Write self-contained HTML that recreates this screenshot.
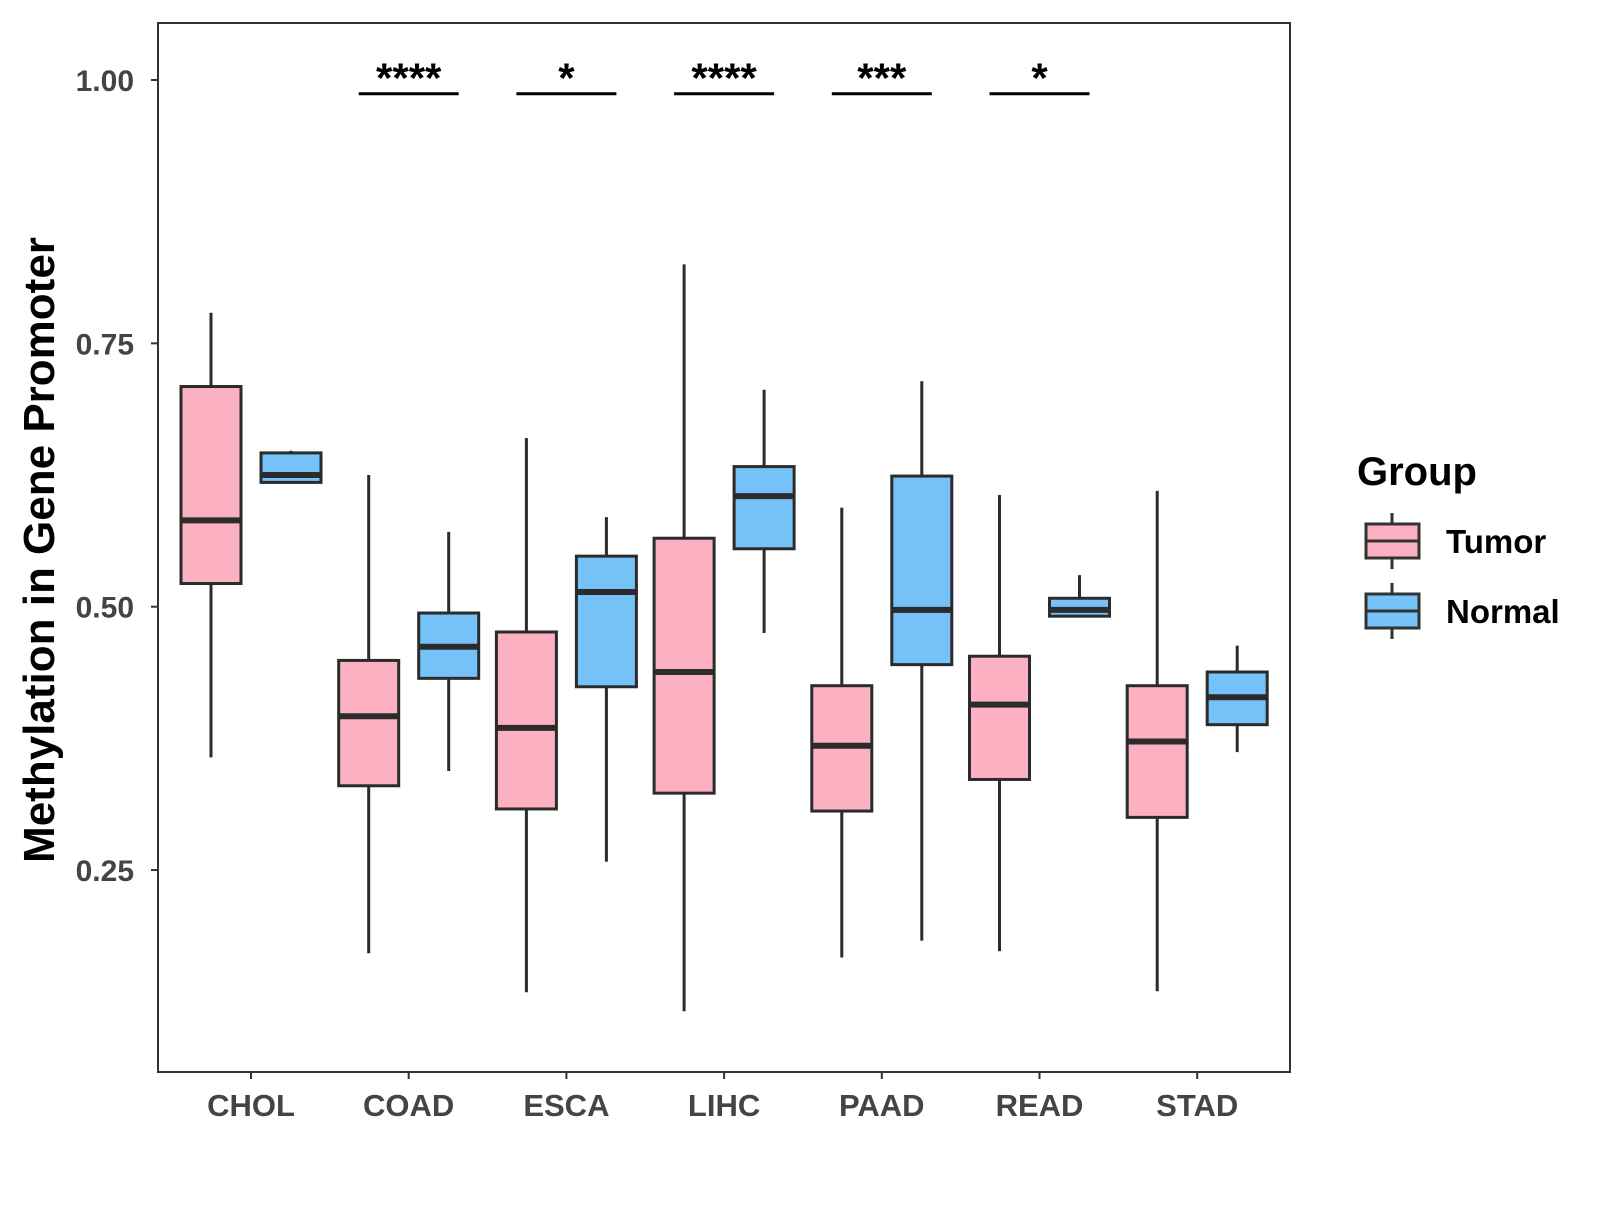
<!DOCTYPE html>
<html><head><meta charset="utf-8"><style>
body{margin:0;background:#fff}
svg text{font-family:"Liberation Sans",Arial,sans-serif;font-weight:bold}
</style></head><body>
<svg id="chart" width="1600" height="1200" xmlns="http://www.w3.org/2000/svg">
<rect x="158" y="23" width="1132" height="1049" fill="#fff" stroke="#333" stroke-width="2"/>
<g id="marks"></g>
<text transform="translate(54,550) rotate(-90)" text-anchor="middle" font-size="44" fill="#000">Methylation in Gene Promoter</text>
<g>
<text x="1357" y="485" font-size="40" fill="#000">Group</text>
<g>
<line x1="1392" y1="513" x2="1392" y2="569" stroke="#333" stroke-width="3"/>
<rect x="1366" y="524" width="53" height="34" fill="#FBB1C1" stroke="#333" stroke-width="3"/>
<line x1="1366" y1="541" x2="1419" y2="541" stroke="#333" stroke-width="3"/>
<text x="1446" y="553" font-size="33" fill="#000">Tumor</text></g>
<g>
<line x1="1392" y1="583" x2="1392" y2="639" stroke="#333" stroke-width="3"/>
<rect x="1366" y="594" width="53" height="34" fill="#75C2F8" stroke="#333" stroke-width="3"/>
<line x1="1366" y1="611" x2="1419" y2="611" stroke="#333" stroke-width="3"/>
<text x="1446" y="623" font-size="33" fill="#000">Normal</text></g>
</g>
</svg>
<script>
const categories=["CHOL","COAD","ESCA","LIHC","PAAD","READ","STAD"];
// [low, q1, median, q3, high]
const tumor=[[0.357,0.522,0.582,0.709,0.779],[0.171,0.330,0.396,0.449,0.625],[0.134,0.308,0.385,0.476,0.660],[0.116,0.323,0.438,0.565,0.825],[0.167,0.306,0.368,0.425,0.594],[0.173,0.336,0.407,0.453,0.606],[0.135,0.300,0.372,0.425,0.610]];
const normal=[[0.618,0.618,0.625,0.646,0.648],[0.344,0.432,0.462,0.494,0.571],[0.258,0.424,0.514,0.548,0.585],[0.475,0.555,0.605,0.633,0.706],[0.183,0.445,0.497,0.624,0.714],[0.491,0.491,0.497,0.508,0.530],[0.362,0.388,0.414,0.438,0.463]];
const sigLabels=["","****","*","****","***","*",""];
const yTicks=[0.25,0.50,0.75,1.00];
const yTickLabels=["0.25","0.50","0.75","1.00"];
const sigY=0.987;
const NS="http://www.w3.org/2000/svg";
const y=v=>80+(1-v)*1053.4;
const x=i=>251+i*157.7;
const g=document.getElementById('marks');
function mk(t,a,p){const e=document.createElementNS(NS,t);for(const k in a)e.setAttribute(k,a[k]);(p||g).appendChild(e);return e;}
yTicks.forEach((v,i)=>{
 const l=mk('line',{x1:151,x2:158,y1:y(v),y2:y(v),stroke:'#333','stroke-width':2});
 
 
 const t=mk('text',{x:134,y:y(v)+11,'text-anchor':'end','font-size':30,fill:'#444'});
 t.textContent=yTickLabels[i];
 
 
});
categories.forEach((c,i)=>{
 const l=mk('line',{x1:x(i),x2:x(i),y1:1072,y2:1079,stroke:'#333','stroke-width':2});
 
 
 const t=mk('text',{x:x(i),y:1116,'text-anchor':'middle','font-size':31,fill:'#444'});
 t.textContent=c;
 
 
});
function box(cx,d,fill,name){
 const gg=mk('g',{});
 
 
 mk('line',{x1:cx,x2:cx,y1:y(d[4]),y2:y(d[0]),stroke:'#2b2b2b','stroke-width':3},gg);
 mk('rect',{x:cx-30,width:60,y:y(d[3]),height:y(d[1])-y(d[3]),fill:fill,stroke:'#2b2b2b','stroke-width':3},gg);
 mk('line',{x1:cx-30,x2:cx+30,y1:y(d[2]),y2:y(d[2]),stroke:'#2b2b2b','stroke-width':6},gg);
}
categories.forEach((c,i)=>{
 box(x(i)-40,tumor[i],'#FBB1C1','box-tumor-'+c.toLowerCase());
 box(x(i)+40,normal[i],'#75C2F8','box-normal-'+c.toLowerCase());
 if(sigLabels[i]){
  const l=mk('line',{x1:x(i)-50,x2:x(i)+50,y1:y(sigY),y2:y(sigY),stroke:'#000','stroke-width':3});
  
  
  const t=mk('text',{x:x(i),y:y(sigY)-1,'text-anchor':'middle','font-size':42,fill:'#000'});
  t.textContent=sigLabels[i];
  
  
 }
});
</script>
</body></html>
